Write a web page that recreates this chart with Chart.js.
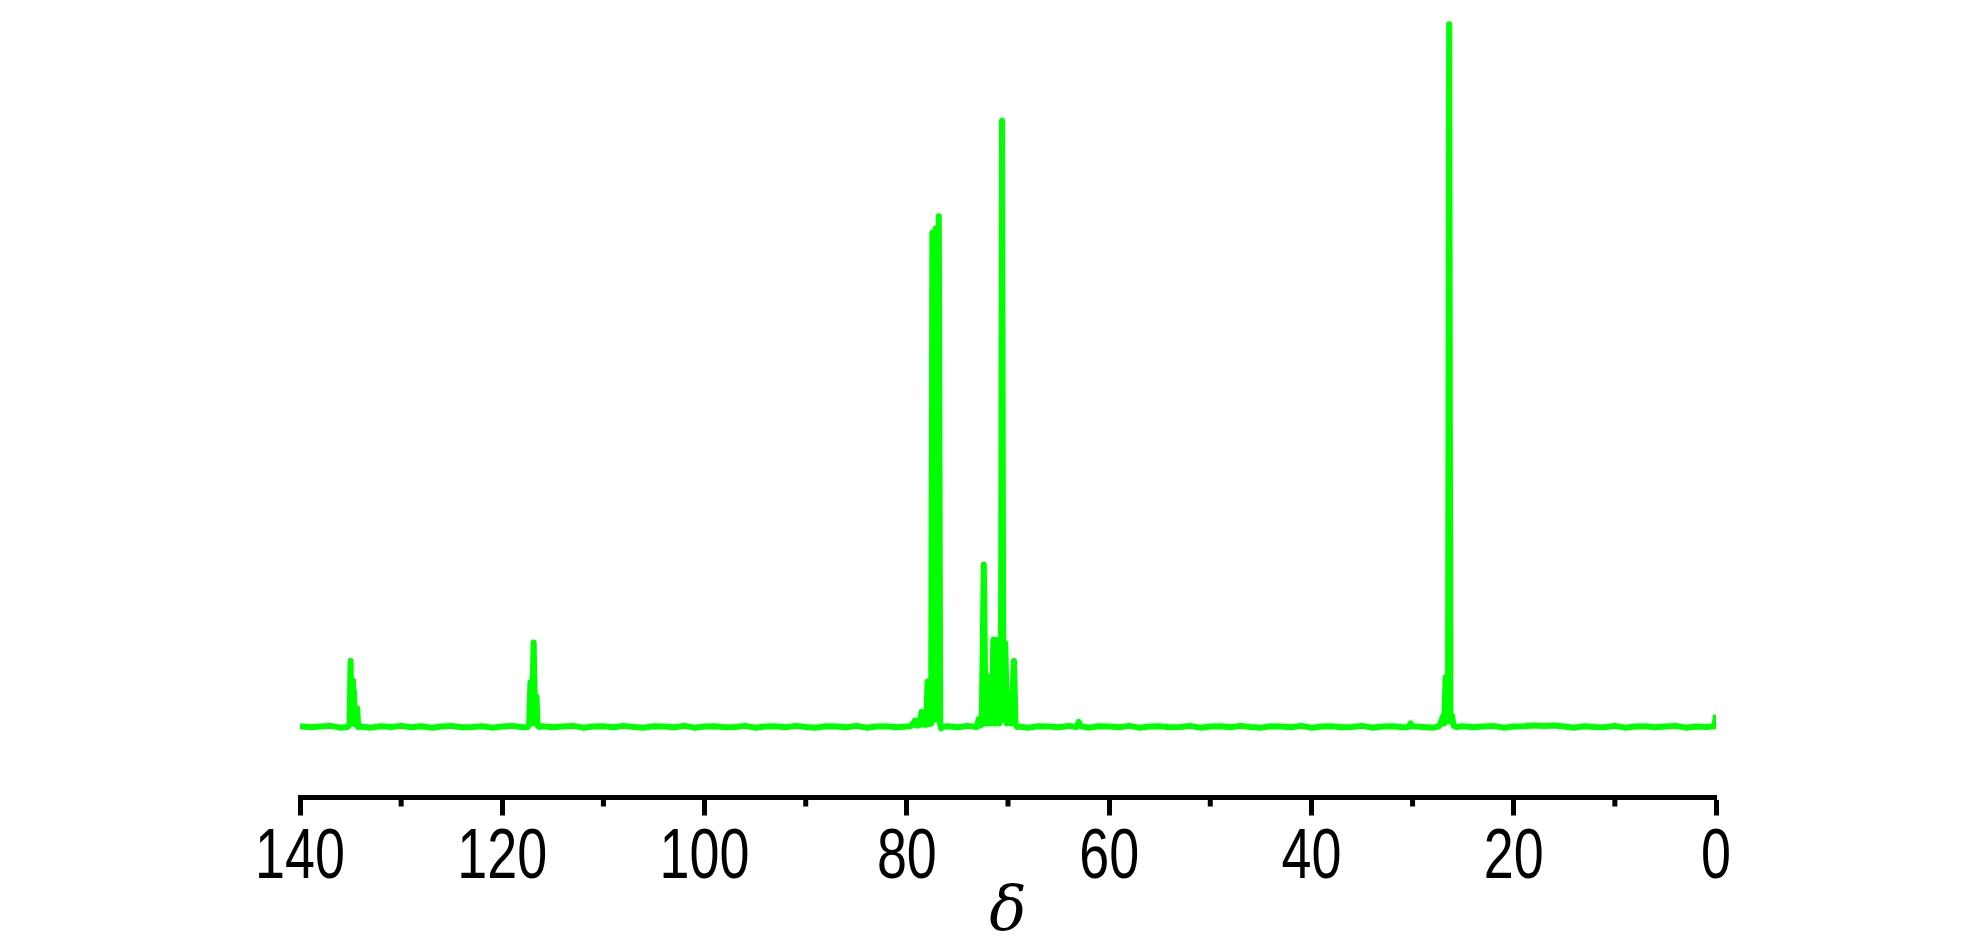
<!DOCTYPE html>
<html>
<head>
<meta charset="utf-8">
<script src="https://cdn.jsdelivr.net/npm/chart.js@4.4.1/dist/chart.umd.min.js"></script>
<style>
  body { margin: 0; background: #fff; }
  #wrap { width: 1983px; height: 945px; }
</style>
</head>
<body>
<div id="wrap"><canvas id="nmrChart"></canvas></div>
<script>
// Baseline noise, one value per ppm from 140 down to 1 (null where a peak group sits)
const baseline = [
  0.1, -0.05, 0.05, 0.15, -0.1, null, 0.05, -0.1, 0.1, 0.0,
  0.15, -0.05, 0.1, -0.1, 0.05, 0.15, -0.05, 0.0, 0.1, -0.1,
  0.05, 0.15, -0.05, null, 0.1, -0.05, 0.05, 0.15, -0.1, 0.05,
  0.1, -0.05, 0.15, 0.0, -0.1, 0.1, 0.05, -0.05, 0.15, -0.1,
  0.05, 0.1, -0.05, 0.0, 0.15, -0.1, 0.05, 0.1, -0.05, 0.15,
  0.0, -0.1, 0.1, 0.05, -0.05, 0.15, -0.1, 0.05, 0.1, -0.05,
  0.05, null, null, null, 0.1, -0.05, 0.15, null, null, null,
  null, 0.05, -0.1, 0.1, 0.05, -0.05, 0.15, null, -0.1, 0.1,
  0.05, -0.05, 0.15, -0.1, 0.05, 0.1, -0.05, 0.0, 0.15, -0.1,
  0.05, 0.1, -0.05, 0.15, 0.0, -0.1, 0.1, 0.05, -0.05, 0.15,
  -0.1, 0.05, 0.1, -0.05, 0.0, 0.15, -0.1, 0.05, 0.1, -0.05,
  null, 0.0, -0.1, null, null, 0.1, -0.05, 0.05, 0.15, -0.1,
  0.05, 0.1, 0.2, 0.15, 0.2, 0.05, -0.1, 0.1, 0.0, -0.05,
  0.15, -0.1, 0.05, 0.1, -0.05, 0.05, 0.15, -0.1, 0.05, 0.0
];
const baselineStart = 140;

// Peak groups (chemical shift in ppm, intensity)
const peakShift = [
  135.3, 135.1, 135.0, 134.92, 134.85, 134.76, 134.67, 134.58, 134.5, 134.42, 134.34, 134.25,
  117.5, 117.35, 117.22, 117.08, 116.9, 116.75, 116.62, 116.5, 116.35,
  79.7, 79.5, 79.2, 79.0, 78.8, 78.55, 78.3, 78.1, 77.95, 77.82, 77.7, 77.6,
  77.48, 77.32, 77.16, 77.0, 76.84, 76.7, 76.6, 76.5,
  73.1, 72.9, 72.75, 72.6, 72.39, 72.22, 72.07, 71.9, 71.75, 71.6, 71.45, 71.3,
  71.17, 71.0, 70.85, 70.7, 70.59, 70.46, 70.27, 70.1, 69.93, 69.7, 69.41, 69.25, 69.1,
  63.2, 63.0, 62.8,
  30.4, 30.2, 30.0,
  27.4, 27.2, 27.0, 26.88, 26.73, 26.6, 26.5, 26.38, 26.26, 26.1, 25.95, 25.7,
  0.15, 0.0
];
const peakIntensity = [
  0.0, 0.3, 9.3, 0.5, 6.5, 0.5, 5.1, 0.4, 2.6, 0.3, 2.6, 0.0,
  0.0, 0.3, 6.3, 0.5, 11.9, 0.5, 4.3, 0.2, 0.0,
  0.1, 0.2, 0.9, 0.2, 0.2, 2.1, 0.3, 0.3, 6.4, 0.4, 6.4, 0.5,
  69.7, 1.0, 70.3, 1.0, 72.0, 0.3, -0.2, 0.0,
  0.0, 1.1, 0.2, 0.3, 22.9, 0.5, 4.2, 0.5, 7.1, 0.5, 12.3, 0.5,
  12.3, 0.8, 0.5, 1.0, 85.5, 1.0, 11.8, 0.5, 4.6, 0.5, 9.3, 0.3, 0.0,
  0.0, 0.7, 0.1,
  0.0, 0.5, 0.1,
  0.1, 0.6, 1.5, 0.5, 7.0, 0.8, 0.8, 99.1, 0.8, 1.6, 0.2, 0.0,
  0.1, 1.7
];

const majorStep = 20;
const minorTickValues = [10, 30, 50, 70, 90, 110, 130];

// merge baseline and peaks into one trace, ordered from 140 ppm down to 0
const points = [];
baseline.forEach((v, i) => {
  if (v !== null) points.push({ x: baselineStart - i, y: v });
});
peakShift.forEach((s, i) => points.push({ x: s, y: peakIntensity[i] }));
points.sort((a, b) => b.x - a.x);

// short minor ticks and narrow tick labels drawn on the x scale
const axisExtras = {
  id: 'axisExtras',
  afterDraw(chart) {
    const s = chart.scales.x;
    const c = chart.ctx;
    c.save();
    c.fillStyle = '#000';
    minorTickValues.forEach(v => {
      const px = s.getPixelForValue(v);
      c.fillRect(px - 2.5, s.top, 5, 9);
    });
    c.font = "70px 'Liberation Sans', Arial, sans-serif";
    c.textAlign = 'center';
    c.textBaseline = 'alphabetic';
    s.ticks.forEach(t => {
      const px = s.getPixelForValue(t.value);
      c.save();
      c.translate(px, s.top + 80.5);
      c.scale(0.77, 1);
      c.fillText(t.label, 0, 0);
      c.restore();
    });
    c.restore();
  }
};

const ctx = document.getElementById('nmrChart').getContext('2d');
new Chart(ctx, {
  type: 'line',
  data: {
    datasets: [{
      data: points,
      borderColor: '#00ff00',
      borderWidth: 6,
      borderJoinStyle: 'round',
      pointRadius: 0,
      tension: 0,
      fill: false
    }]
  },
  options: {
    responsive: true,
    maintainAspectRatio: false,
    animation: false,
    layout: { padding: { left: 300, right: 267, top: 10, bottom: 0 } },
    plugins: {
      legend: { display: false },
      tooltip: { enabled: false }
    },
    scales: {
      x: {
        type: 'linear',
        reverse: true,
        min: 0,
        max: 140,
        afterFit: (scale) => { scale.height = 147.5; },
        ticks: {
          stepSize: majorStep,
          color: 'rgba(0,0,0,0)',
          padding: 4,
          maxRotation: 0,
          font: { family: "'Liberation Sans', Arial, sans-serif", size: 70 }
        },
        grid: {
          drawOnChartArea: false,
          drawTicks: true,
          tickLength: 18,
          tickWidth: 5,
          tickColor: '#000'
        },
        border: { display: true, color: '#000', width: 5 },
        title: {
          display: true,
          text: 'δ',
          color: '#000',
          padding: { top: 0, bottom: 0 },
          font: { family: "'DejaVu Serif', 'Liberation Serif', serif", style: 'italic', size: 62, lineHeight: 1 }
        }
      },
      y: {
        display: false,
        min: -9.95,
        max: 101.1
      }
    }
  },
  plugins: [axisExtras]
});
</script>
</body>
</html>
